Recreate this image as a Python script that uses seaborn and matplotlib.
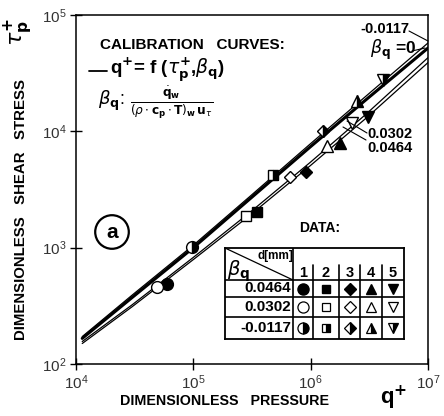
import numpy as np
import pandas as pd
import matplotlib
matplotlib.use("Agg")
import matplotlib.pyplot as plt
import seaborn as sns
from matplotlib.lines import Line2D
from matplotlib.ticker import LogLocator, LogFormatterMathtext, NullLocator

# ---------------- data ----------------
q_curve = [1.13e4, 3e4, 1e5, 3e5, 1e6, 3e6, 1e7]
tau_curve_m0117 = [172, 390, 1050, 2730, 7850, 20300, 57500]
tau_curve_0 = [166, 372, 1000, 2600, 7400, 18900, 52000]
tau_curve_0302 = [156, 322, 825, 1990, 5450, 14200, 43000]
tau_curve_0464 = [150, 310, 790, 1880, 5100, 13100, 39000]

d_mm = ["1", "2", "3", "4", "5"]
beta_rows = ["0.0464", "0.0302", "-0.0117"]
q_0464 = [6.0e4, 3.47e5, 9.1e5, 1.78e6, 3.1e6]
tau_0464 = [485, 2040, 4450, 7950, 13200]
q_0302 = [4.87e4, 2.8e5, 6.67e5, 1.37e6, 2.24e6]
tau_0302 = [460, 1890, 4080, 7540, 11800]
q_m0117 = [9.8e4, 4.8e5, 1.27e6, 2.46e6, 4.1e6]
tau_m0117 = [1010, 4250, 10100, 18200, 27600]

x_ticks = [1e4, 1e5, 1e6, 1e7]
y_ticks = [1e2, 1e3, 1e4, 1e5]

# ---------------- style ----------------
sns.set_theme(style="ticks")
plt.rcParams["font.family"] = ["Liberation Sans", "DejaVu Sans"]
plt.rcParams["mathtext.fontset"] = "dejavusans"

W, H = 444, 416
fig = plt.figure(figsize=(W / 100, H / 100), dpi=100)
fig.patch.set_facecolor("white")


def fx(x):
    return x / W


def fy(y):
    return 1 - y / H


ax = fig.add_axes([fx(76), fy(364), fx(428) - fx(76), fy(15) - fy(364)])
ax.set_facecolor("white")
ax.set_xscale("log")
ax.set_yscale("log")

curves = [
    (tau_curve_m0117, 0.9),
    (tau_curve_0, 2.2),
    (tau_curve_0302, 0.9),
    (tau_curve_0464, 0.9),
]
for tau_c, lw in curves:
    df = pd.DataFrame({"q": q_curve, "tau": tau_c})
    sns.lineplot(data=df, x="q", y="tau", ax=ax, color="black", linewidth=lw,
                 estimator=None, sort=True, legend=False)

msize = {"o": 8.5, "s": 7, "D": 6.5, "^": 8, "v": 8}
for m, qv, tv in zip(["o", "s", "D", "^", "v"], q_0464, tau_0464):
    ax.plot([qv], [tv], marker=m, ms=msize[m], mfc="black", mec="black",
            mew=1, ls="none", zorder=5)
for m, qv, tv in zip(["o", "s", "D", "^", "v"], q_0302, tau_0302):
    ax.plot([qv], [tv], marker=m, ms=msize[m], mfc="white", mec="black",
            mew=1, ls="none", zorder=5)
for m, qv, tv in zip(["o", "s", "D", "^", "v"], q_m0117, tau_m0117):
    ax.plot([qv], [tv], marker=m, ms=msize[m], mfc="black", mfcalt="white",
            fillstyle="right", mec="black", mew=1, ls="none", zorder=5)

ax.set_xlim(1e4, 1e7)
ax.set_ylim(1e2, 1e5)
ax.xaxis.set_major_locator(LogLocator(base=10))
ax.yaxis.set_major_locator(LogLocator(base=10))
ax.xaxis.set_minor_locator(NullLocator())
ax.yaxis.set_minor_locator(NullLocator())
ax.set_xticks(x_ticks)
ax.set_yticks(y_ticks)
ax.xaxis.set_major_formatter(LogFormatterMathtext())
ax.yaxis.set_major_formatter(LogFormatterMathtext())
ax.tick_params(axis="both", which="major", direction="inout", length=8,
               width=1, labelsize=11, colors="black", pad=3)
for lab in ax.get_xticklabels() + ax.get_yticklabels():
    lab.set_color("#333333")
for s in ax.spines.values():
    s.set_linewidth(1.1)
    s.set_color("black")
ax.set_xlabel("")
ax.set_ylabel("")

# ---------------- text ----------------
bold = dict(fontweight="bold", color="black")
fig.text(fx(100), fy(45), "CALIBRATION   CURVES:", ha="left", va="center",
         fontsize=11, **bold)
fig.add_artist(Line2D([fx(89), fx(107)], [fy(71), fy(71)], color="black", lw=1.3))
fig.text(fx(110), fy(70), r"q$^{\mathbf{+}}$= f ($\tau_{\mathbf{p}}^{\mathbf{+}}$,$\beta_{\mathbf{q}}$)",
         ha="left", va="center", fontsize=13.5, **bold)
fig.text(fx(98), fy(101), r"$\beta_{\mathbf{q}}$:", ha="left", va="center",
         fontsize=13, color="black")
fig.text(fx(172), fy(102),
         r"$\frac{\dot{\mathbf{q}}_{\mathbf{w}}}{(\rho\cdot\mathbf{c_p}\cdot\mathbf{T})_{\mathbf{w}}\,\mathbf{u}_\tau}$",
         ha="center", va="center", fontsize=12.5, color="black")

fig.text(fx(112), fy(232), "a", ha="center", va="center", fontsize=15,
         bbox=dict(boxstyle="circle,pad=0.35", fc="white", ec="black", lw=1.6),
         **bold)

fig.text(fx(385), fy(29), "-0.0117", ha="center", va="center", fontsize=10.5, **bold)
fig.text(fx(393), fy(50), r"$\beta_{\mathbf{q}}$ =0", ha="center", va="center",
         fontsize=12.5, **bold)
fig.text(fx(390), fy(134), "0.0302", ha="center", va="center", fontsize=10.5, **bold)
fig.text(fx(390), fy(148), "0.0464", ha="center", va="center", fontsize=10.5, **bold)
for (x0, y0, x1, y1) in [(409, 31, 428, 41), (412, 51, 425, 48),
                         (367, 133, 347, 121), (366, 140, 343, 127)]:
    fig.add_artist(Line2D([fx(x0), fx(x1)], [fy(y0), fy(y1)], color="black", lw=0.8))

fig.text(fx(320), fy(228), "DATA:", ha="center", va="center", fontsize=10, **bold)

fig.text(fx(224), fy(401), "DIMENSIONLESS   PRESSURE", ha="center", va="center",
         fontsize=10.3, **bold)
fig.text(fx(394), fy(398), r"q$^{\mathbf{+}}$", ha="center", va="center",
         fontsize=16, **bold)
fig.text(fx(21), fy(210), "DIMENSIONLESS   SHEAR   STRESS", ha="center",
         va="center", rotation=90, fontsize=10.8, **bold)
fig.text(fx(19), fy(32), r"$\tau_{\mathbf{p}}^{\mathbf{+}}$", ha="center",
         va="center", rotation=90, fontsize=16, color="black")

# ---------------- data table ----------------
tab = fig.add_axes([fx(225), fy(339), fx(404) - fx(225), fy(248) - fy(339)])
tab.set_xlim(0, 179)
tab.set_ylim(91, 0)
tab.set_facecolor("white")
tab.set_xticks([])
tab.set_yticks([])
for s in tab.spines.values():
    s.set_linewidth(1.3)
    s.set_color("black")
col_edges = [0, 68, 88, 114, 135, 157, 179]
row_edges = [0, 32, 49, 69, 91]
for ce in col_edges[1:-1]:
    y_start = 0 if ce == col_edges[1] else 17
    tab.plot([ce, ce], [y_start, 91], color="black", lw=1.2)
for re_ in row_edges[1:-1]:
    tab.plot([0, 179], [re_, re_], color="black", lw=1.2)
tab.plot([0, 68], [0, 32], color="black", lw=0.9)
tab.text(50, 8, "d[mm]", ha="center", va="center", fontsize=8.5, **bold)
tab.text(14, 23, r"$\beta_{\mathbf{q}}$", ha="center", va="center", fontsize=14,
         color="black")
centers = [(col_edges[i] + col_edges[i + 1]) / 2 for i in range(1, 6)]
for c, d in zip(centers, d_mm):
    tab.text(c, 25, d, ha="center", va="center", fontsize=10.5, **bold)
row_c = [(row_edges[i] + row_edges[i + 1]) / 2 for i in range(1, 4)]
for r, lab in zip(row_c, beta_rows):
    tab.text(66, r, lab, ha="right", va="center", fontsize=11, **bold)
tms = {"o": 8, "s": 6, "D": 6, "^": 7, "v": 7}
for c, m in zip(centers, ["o", "s", "D", "^", "v"]):
    tab.plot([c], [row_c[0]], marker=m, ms=tms[m], mfc="black", mec="black", ls="none")
    tab.plot([c], [row_c[1]], marker=m, ms=tms[m], mfc="white", mec="black",
             mew=0.9, ls="none")
    tab.plot([c], [row_c[2]], marker=m, ms=tms[m], mfc="black", mfcalt="white",
             fillstyle="right", mec="black", mew=0.9, ls="none")

fig.savefig("out.png", dpi=100, facecolor="white")
